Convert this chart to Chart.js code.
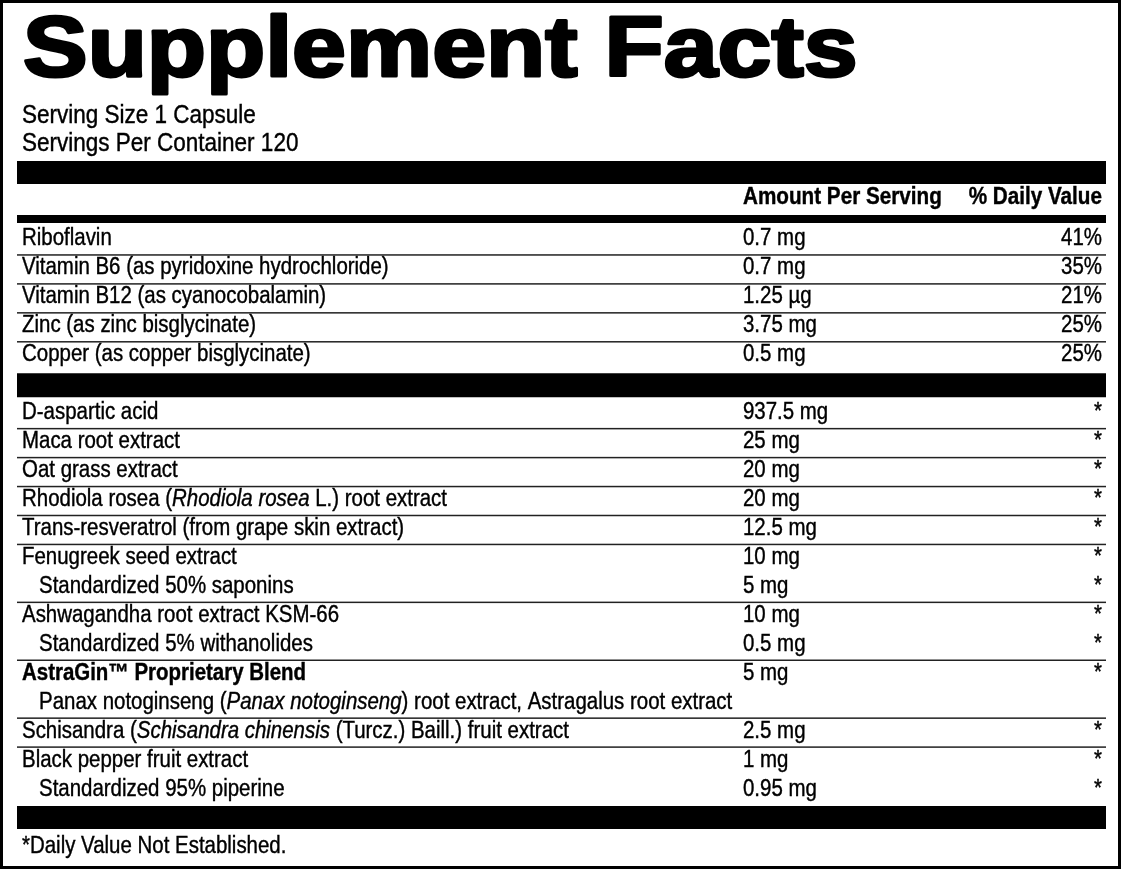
<!DOCTYPE html>
<html>
<head>
<meta charset="utf-8">
<title>Supplement Facts</title>
<script src="https://cdn.jsdelivr.net/npm/chart.js@4.4.0/dist/chart.umd.min.js"></script>
<style>
    html, body { margin: 0; padding: 0; background: #fff; }
    canvas { display: block; }
</style>
</head>
<body>
<canvas id="factsChart" width="1123" height="869"></canvas>
<script>
// --- label data ---
const title = 'Supplement Facts';
const servingLines = ['Serving Size 1 Capsule', 'Servings Per Container 120'];
const columnHeaders = ['Amount Per Serving', '% Daily Value'];
const footnote = '*Daily Value Not Established.';

const nutrients = [
    'Riboflavin',
    'Vitamin B6 (as pyridoxine hydrochloride)',
    'Vitamin B12 (as cyanocobalamin)',
    'Zinc (as zinc bisglycinate)',
    'Copper (as copper bisglycinate)'
];
const nutrientAmounts = ['0.7 mg', '0.7 mg', '1.25 µg', '3.75 mg', '0.5 mg'];
const nutrientDV = [41, 35, 21, 25, 25];

// _text_ = italic
const ingredients = [
    'D-aspartic acid',
    'Maca root extract',
    'Oat grass extract',
    'Rhodiola rosea (_Rhodiola rosea_ L.) root extract',
    'Trans-resveratrol (from grape skin extract)',
    'Fenugreek seed extract',
    'Standardized 50% saponins',
    'Ashwagandha root extract KSM-66',
    'Standardized 5% withanolides',
    'AstraGin™ Proprietary Blend',
    'Panax notoginseng (_Panax notoginseng_) root extract, Astragalus root extract',
    'Schisandra (_Schisandra chinensis_ (Turcz.) Baill.) fruit extract',
    'Black pepper fruit extract',
    'Standardized 95% piperine'
];
const ingredientAmounts = ['937.5 mg', '25 mg', '20 mg', '20 mg', '12.5 mg', '10 mg', '5 mg',
    '10 mg', '0.5 mg', '5 mg', '', '2.5 mg', '1 mg', '0.95 mg'];
const ingredientDV = ['*', '*', '*', '*', '*', '*', '*', '*', '*', '*', '', '*', '*', '*'];
const ingredientIndent = [0, 0, 0, 0, 0, 0, 1, 0, 1, 0, 1, 0, 0, 1];
const boldIngredients = ['AstraGin™ Proprietary Blend'];

// one category per table row, the empty one is the black bar between sections
const sepIndex = nutrients.length;
const rowNames = [...nutrients, '', ...ingredients];
const rowAmounts = [...nutrientAmounts, '', ...ingredientAmounts];
const rowDV = [...nutrientDV.map(v => v + '%'), '', ...ingredientDV];
const rowIndent = [...nutrients.map(() => 0), 0, ...ingredientIndent];

const FONT = '"Liberation Sans", Arial, sans-serif';
const ROW_SIZE = 23.5;
const SX = 0.87;   // squeeze to get a condensed face

function drawText(ctx, text, x, y, font, sx, align) {
    ctx.save();
    ctx.font = font;
    ctx.textAlign = align || 'left';
    ctx.translate(x, y);
    ctx.scale(sx, 1);
    ctx.fillText(text, 0, 0);
    // a hairline stroke makes the squeezed face a bit darker
    ctx.lineWidth = 0.4;
    ctx.strokeText(text, 0, 0);
    ctx.restore();
}

function drawRich(ctx, text, x, y, weight) {
    let cx = x;
    text.split('_').forEach((part, k) => {
        const font = (k % 2 ? 'italic ' : '') + weight + ' ' + ROW_SIZE + 'px ' + FONT;
        drawText(ctx, part, cx, y, font, SX);
        ctx.font = font;
        cx += ctx.measureText(part).width * SX;
    });
}

const factsPlugin = {
    id: 'factsPanel',
    beforeDraw(chart) {
        const { ctx } = chart;
        ctx.save();
        ctx.fillStyle = '#fff';
        ctx.fillRect(0, 0, chart.width, chart.height);
        ctx.restore();
    },
    afterDraw(chart) {
        const { ctx, chartArea: area, scales: { y } } = chart;
        const width = area.right - area.left;
        const rowH = y.getPixelForValue(1) - y.getPixelForValue(0);
        const nameX = area.left + 5;
        const amountX = area.left + 726;
        const dvX = area.right - 4;
        const regular = 'normal ' + ROW_SIZE + 'px ' + FONT;
        const bold = 'bold ' + ROW_SIZE + 'px ' + FONT;

        ctx.save();
        ctx.fillStyle = '#000';
        ctx.strokeStyle = '#000';

        // outer frame
        ctx.lineWidth = 3;
        ctx.strokeRect(1.5, 1.5, chart.width - 5, chart.height - 3);

        // title, thickened with a stroke
        ctx.save();
        ctx.font = 'bold 85px ' + FONT;
        ctx.translate(area.left + 6, 75.5);
        ctx.scale(1.14, 1);
        ctx.lineWidth = 3;
        ctx.lineJoin = 'round';
        ctx.fillText(title, 0, 0);
        ctx.strokeText(title, 0, 0);
        ctx.restore();

        servingLines.forEach((line, i) => {
            drawText(ctx, line, nameX, 123 + i * 28, 'normal 25px ' + FONT, 0.9);
        });

        // header block
        ctx.fillRect(area.left, area.top - 65, width, 23);
        drawText(ctx, columnHeaders[0], amountX, area.top - 22, bold, 0.88);
        drawText(ctx, columnHeaders[1], dvX, area.top - 22, bold, 0.88, 'right');
        ctx.fillRect(area.left, area.top - 11, width, 8);

        // rows
        rowNames.forEach((name, i) => {
            if (i === sepIndex) return;
            const cy = y.getPixelForValue(i);
            if (i > 0 && i !== sepIndex + 1 && !rowIndent[i]) {
                ctx.fillStyle = '#222';
                ctx.fillRect(area.left, cy - rowH / 2 - 0.75, width, 1.5);
                ctx.fillStyle = '#000';
            }
            const base = cy + 5;
            const weight = boldIngredients.includes(name) ? 'bold' : 'normal';
            drawRich(ctx, name, rowIndent[i] ? nameX + 17 : nameX, base, weight);
            if (rowAmounts[i]) drawText(ctx, rowAmounts[i], amountX, base, regular, SX);
            if (rowDV[i]) drawText(ctx, rowDV[i], dvX, base, regular, SX, 'right');
        });

        // closing bar and footnote
        ctx.fillRect(area.left, area.bottom + 1, width, 23);
        drawText(ctx, footnote, nameX, area.bottom + 48, regular, SX);
        ctx.restore();
    }
};

document.addEventListener('DOMContentLoaded', () => {
    const factsCtx = document.getElementById('factsChart').getContext('2d');
    new Chart(factsCtx, {
        type: 'bar',
        data: {
            labels: rowNames,
            datasets: [{
                label: 'Section bar',
                data: rowNames.map((_, i) => (i === sepIndex ? [0, 1] : null)),
                backgroundColor: '#000',
                borderWidth: 0,
                barPercentage: 0.83,
                categoryPercentage: 1
            }]
        },
        options: {
            indexAxis: 'y',
            responsive: false,
            animation: false,
            devicePixelRatio: 1,
            layout: { padding: { top: 226, bottom: 64, left: 17, right: 17 } },
            scales: {
                x: { type: 'linear', min: 0, max: 1, display: false },
                y: { display: false }
            },
            plugins: {
                legend: { display: false },
                tooltip: { enabled: false }
            }
        },
        plugins: [factsPlugin]
    });
});
</script>
</body>
</html>
